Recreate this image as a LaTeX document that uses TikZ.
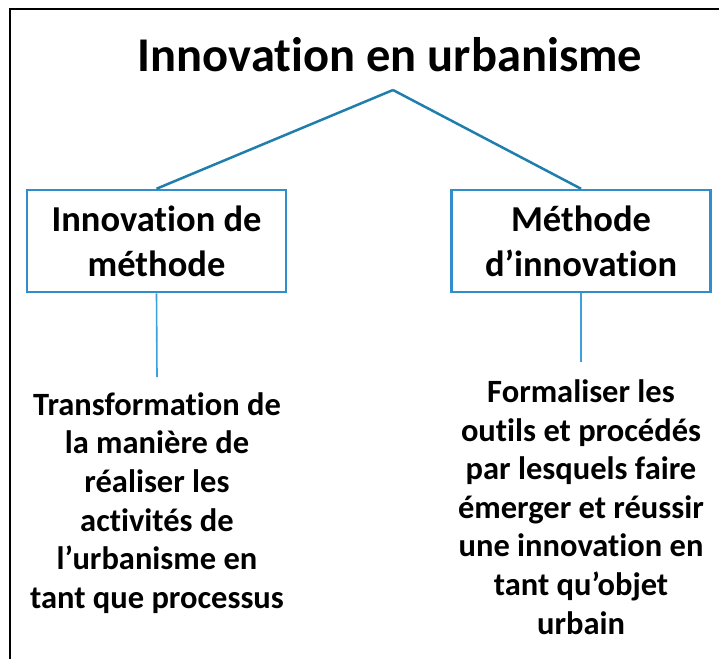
\documentclass[tikz,border=0pt]{standalone}
\usepackage{fontspec}
\setmainfont{Carlito}[Ligatures=NoCommon]
\usepackage{tikz}
\definecolor{linkblue}{RGB}{31,126,172}
\definecolor{boxblue}{RGB}{48,142,204}
\definecolor{stemblue}{RGB}{60,160,220}

\tikzset{
  box/.style={draw=boxblue, line width=2.5pt, minimum width=259pt, minimum height=102pt,
    align=center, font=\fontsize{36.5}{45}\selectfont\bfseries},
  notes/.style={align=center, inner sep=0pt, font=\fontsize{32.5}{38.6}\selectfont\bfseries},
  link/.style={draw=linkblue, line width=2.5pt},
  stem/.style={draw=stemblue, line width=1.6pt}
}

\begin{document}
\begin{tikzpicture}[x=1pt,y=-1pt]
		\useasboundingbox (0,0) rectangle (719,659);
		\draw[line width=2.5pt] (10,659) -- (10,9) -- (719,9);
		\node (T) at (390,55) {\fontsize{48.5}{58}\selectfont\bfseries Innovation en urbanisme};
		\coordinate (A) at (393,90);
		\node (L) [box] at (156.5,241) {Innovation de\\méthode};
		\node (R) [box] at (581,241) {Méthode\\d’innovation};
		\node (LT) [notes] at (157,503) {Transformation de\\la manière de\\réaliser les\\activités de\\l’urbanisme en\\tant que processus};
		\node (RT) [notes] at (581,507) {Formaliser les\\outils et procédés\\par lesquels faire\\émerger et réussir\\une innovation en\\tant qu’objet\\urbain};
		\coordinate (LE) at (157,377);
		\coordinate (RE) at (581,362);
		\draw[link] (A) -- (L.north);
		\draw[link] (A) -- (R.north);
		\draw[stem] (L.south) -- (LE);
		\draw[stem] (R.south) -- (RE);
\end{tikzpicture}
\end{document}
